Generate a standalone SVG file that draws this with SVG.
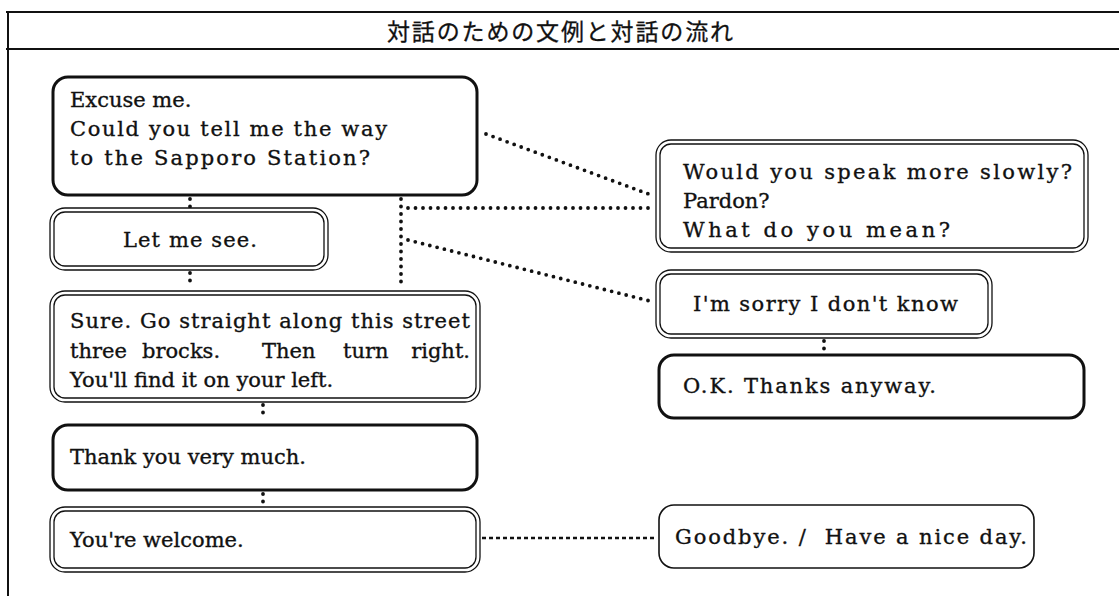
<svg xmlns="http://www.w3.org/2000/svg" width="1119" height="596" viewBox="0 0 1119 596">
<style>
.t{font-family:"DejaVu Serif","Liberation Serif",serif;font-size:21px;fill:#111;stroke:#111;stroke-width:0.35}
.ttl{font-family:"Noto Sans CJK JP","Noto Sans CJK SC",sans-serif;font-size:23px;font-weight:400;fill:#111;stroke:#111;stroke-width:0.3}
.thick{fill:#fff;stroke:#111;stroke-width:3}
.dbl{fill:#fff;stroke:#111;stroke-width:1.3}
.thin{fill:#fff;stroke:#111;stroke-width:1.6}
.frame{stroke:#111;stroke-width:2;fill:none}
.dot{stroke:#111;stroke-width:3.8;stroke-linecap:round;stroke-dasharray:0 7.5;fill:none}
.dash{stroke:#111;stroke-width:2.5;stroke-dasharray:4 3;fill:none}
</style>
<rect width="1119" height="596" fill="#fff"/>
<g id="frame">
<line class="frame" x1="6" y1="12" x2="1119" y2="12"/>
<line class="frame" x1="6" y1="49" x2="1119" y2="49"/>
<line class="frame" x1="8" y1="12" x2="8" y2="596"/>
<text class="ttl" x="560" y="40" text-anchor="middle" textLength="346" lengthAdjust="spacing">対話のための文例と対話の流れ</text>
</g>
<g id="connectors">
<line class="dot" x1="190" y1="199" x2="190" y2="207"/>
<line class="dot" x1="190" y1="273" x2="190" y2="288"/>
<line class="dot" x1="401" y1="199" x2="401" y2="289"/>
<line class="dot" x1="408" y1="208" x2="654" y2="208"/>
<line class="dot" x1="486" y1="134" x2="654" y2="196"/>
<line class="dot" x1="408" y1="240" x2="654" y2="302"/>
<line class="dot" x1="263" y1="405" x2="263" y2="420"/>
<line class="dot" x1="263" y1="494" x2="263" y2="504"/>
<line class="dot" x1="824" y1="341" x2="824" y2="351"/>
<line class="dash" x1="482" y1="538" x2="657" y2="538"/>
</g>
<g id="n1">
<rect class="thick" x="53" y="77" width="424" height="118" rx="15"/>
<text class="t" x="70" y="107">Excuse me.</text>
<text class="t" x="70" y="136" textLength="317" lengthAdjust="spacing">Could you tell me the way</text>
<text class="t" x="70" y="165" textLength="300" lengthAdjust="spacing">to the Sapporo Station?</text>
</g>
<g id="n2">
<rect class="dbl" x="50" y="208" width="278" height="62" rx="15"/>
<rect class="dbl" x="54" y="212" width="270" height="54" rx="11"/>
<text class="t" x="190" y="247" text-anchor="middle" textLength="134" lengthAdjust="spacing">Let me see.</text>
</g>
<g id="n3">
<rect class="dbl" x="50" y="291" width="430" height="111" rx="15"/>
<rect class="dbl" x="54" y="295" width="422" height="103" rx="11"/>
<text class="t" x="70" y="328" textLength="400" lengthAdjust="spacing">Sure. Go straight along this street</text>
<text class="t" y="358"><tspan x="70">three</tspan><tspan x="142">brocks.</tspan><tspan x="262">Then</tspan><tspan x="343">turn</tspan><tspan x="470" text-anchor="end">right.</tspan></text>
<text class="t" x="70" y="387">You'll find it on your left.</text>
</g>
<g id="n4">
<rect class="thick" x="53" y="425" width="424" height="65" rx="15"/>
<text class="t" x="70" y="464">Thank you very much.</text>
</g>
<g id="n5">
<rect class="dbl" x="50" y="507" width="430" height="65" rx="15"/>
<rect class="dbl" x="54" y="511" width="422" height="57" rx="11"/>
<text class="t" x="70" y="547">You're welcome.</text>
</g>
<g id="n6">
<rect class="dbl" x="656" y="140" width="432" height="112" rx="15"/>
<rect class="dbl" x="660" y="144" width="424" height="104" rx="11"/>
<text class="t" x="683" y="179" textLength="389" lengthAdjust="spacing">Would you speak more slowly?</text>
<text class="t" x="683" y="208">Pardon?</text>
<text class="t" x="683" y="237" textLength="267" lengthAdjust="spacing">What do you mean?</text>
</g>
<g id="n7">
<rect class="dbl" x="656" y="270" width="336" height="68" rx="15"/>
<rect class="dbl" x="660" y="274" width="328" height="60" rx="11"/>
<text class="t" x="693" y="311" textLength="265" lengthAdjust="spacing">I'm sorry I don't know</text>
</g>
<g id="n8">
<rect class="thick" x="659" y="355" width="425" height="63" rx="15"/>
<text class="t" x="683" y="393" textLength="253" lengthAdjust="spacing">O.K. Thanks anyway.</text>
</g>
<g id="n9">
<rect class="thin" x="659" y="505" width="375" height="63" rx="15"/>
<text class="t" x="675" y="544" textLength="352" lengthAdjust="spacing" xml:space="preserve">Goodbye. /  Have a nice day.</text>
</g>
</svg>
